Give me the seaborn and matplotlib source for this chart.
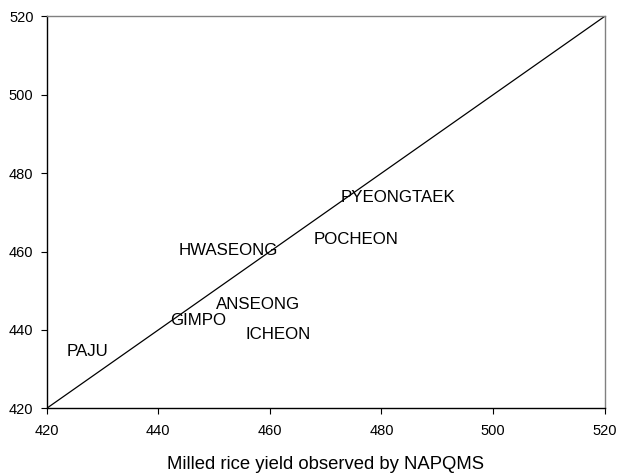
import matplotlib
matplotlib.use("Agg")
import matplotlib.pyplot as plt
import seaborn as sns
import pandas as pd

sites = ["PAJU", "GIMPO", "ANSEONG", "ICHEON", "HWASEONG", "POCHEON", "PYEONGTAEK"]
observed = [423.6, 442.2, 450.3, 455.7, 443.6, 467.9, 472.6]
simulated = [434.4, 442.5, 446.6, 438.9, 460.2, 463.1, 473.9]
one_to_one = [420, 520]
ticks = [420, 440, 460, 480, 500, 520]

sns.set_style("white")
plt.rcParams['font.family'] = ['Liberation Sans', 'DejaVu Sans']
plt.rcParams['text.color'] = 'black'
plt.rcParams['axes.labelcolor'] = 'black'
plt.rcParams['xtick.color'] = 'black'
plt.rcParams['ytick.color'] = 'black'

fig = plt.figure(figsize=(6.18, 4.75), dpi=100)
ax = fig.add_axes([0.0756, 0.1404, 0.9026, 0.8249])

line_df = pd.DataFrame({"x": one_to_one, "y": one_to_one})
sns.lineplot(data=line_df, x="x", y="y", ax=ax, color="black", linewidth=0.9)

for name, xo, ys in zip(sites, observed, simulated):
    ax.text(xo, ys, name, ha="left", va="center", fontsize=12.2, color="black")

ax.set_xlim(420, 520)
ax.set_ylim(420, 520)
ax.set_xticks(ticks)
ax.set_yticks(ticks)
ax.tick_params(axis="both", direction="out", length=4.5, width=0.8, labelsize=10.5,
               bottom=True, left=True, color="black", labelcolor="black")
ax.tick_params(axis="x", pad=7)
ax.tick_params(axis="y", pad=5)
ax.spines["left"].set_color("black")
ax.spines["bottom"].set_color("black")
ax.spines["top"].set_color("#808080")
ax.spines["right"].set_color("#808080")
for s in ax.spines.values():
    s.set_linewidth(1.0)
ax.set_xlabel("Milled rice yield observed by NAPQMS", fontsize=13.3, labelpad=13, color="black")
ax.set_ylabel("")

fig.savefig("out.png", dpi=100)
